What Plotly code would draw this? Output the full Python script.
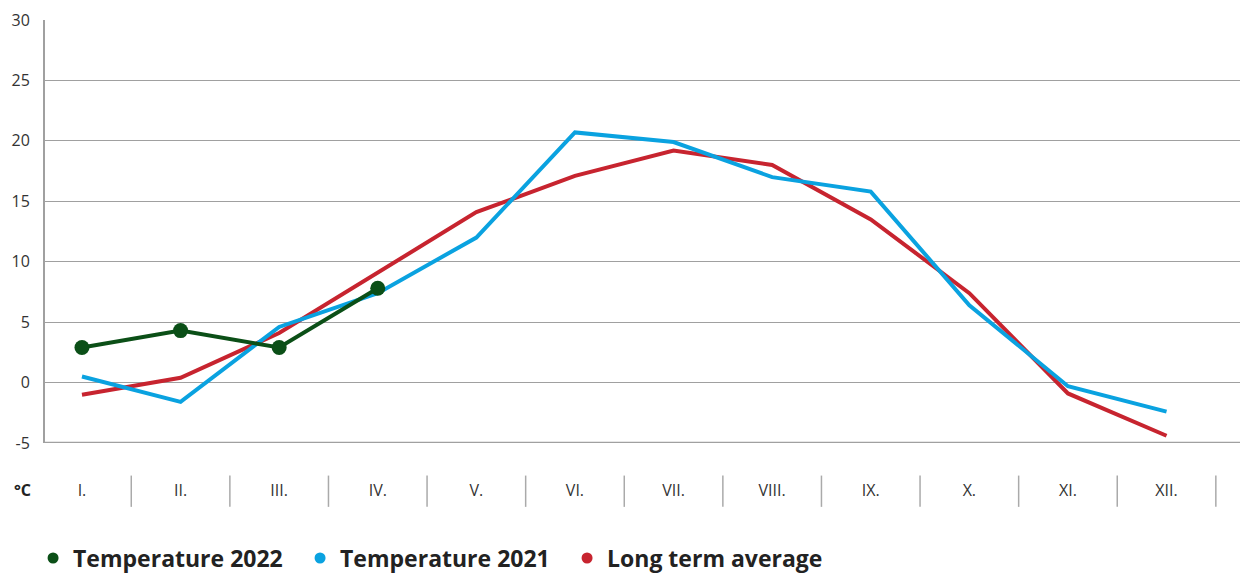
import plotly.graph_objects as go

months = ["I.", "II.", "III.", "IV.", "V.", "VI.", "VII.", "VIII.", "IX.", "X.", "XI.", "XII."]
temp_2022 = [2.9, 4.3, 2.9, 7.8]
temp_2021 = [0.5, -1.6, 4.6, 7.4, 12.0, 20.7, 19.9, 17.0, 15.8, 6.4, -0.3, -2.4]
long_term = [-1.0, 0.4, 4.1, 9.1, 14.1, 17.1, 19.2, 18.0, 13.5, 7.4, -0.9, -4.4]
y_ticks = [-5, 0, 5, 10, 15, 20, 25, 30]

GREEN = "#0b4f17"
BLUE = "#0aa2e0"
RED = "#c7242f"
FONT = "Open Sans"

xs = list(range(len(months)))
fig = go.Figure()

fig.add_trace(go.Scatter(x=xs, y=long_term, mode="lines", line=dict(color=RED, width=4),
                         showlegend=False, name="Long term average"))
fig.add_trace(go.Scatter(x=xs, y=temp_2021, mode="lines", line=dict(color=BLUE, width=4),
                         showlegend=False, name="Temperature 2021"))
fig.add_trace(go.Scatter(x=xs[:len(temp_2022)], y=temp_2022, mode="lines+markers",
                         line=dict(color=GREEN, width=4), marker=dict(color=GREEN, size=15),
                         showlegend=False, name="Temperature 2022"))

# legend entries (dots)
for name, col in [("Temperature 2022", GREEN), ("Temperature 2021", BLUE), ("Long term average", RED)]:
    fig.add_trace(go.Scatter(x=[None], y=[None], mode="markers", name=name,
                             marker=dict(color=col, size=11)))

# category separators
for i in range(len(months)):
    fig.add_shape(type="line", xref="x", yref="paper", x0=i + 0.5, x1=i + 0.5,
                  y0=-0.077, y1=-0.151, line=dict(color="#aaaaaa", width=1.5))

fig.add_annotation(text="°C", xref="paper", yref="paper", x=(22 - 45) / 1195, y=-0.111,
                   showarrow=False, font=dict(family=FONT, size=16, color="#222", weight="bold"),
                   xanchor="center", yanchor="middle")

fig.update_layout(
    width=1241, height=573,
    margin=dict(l=45, r=1, t=20, b=130, autoexpand=False),
    plot_bgcolor="white", paper_bgcolor="white",
    font=dict(family=FONT, color="#333"),
    xaxis=dict(range=[-0.375, 11.745], tickvals=xs, ticktext=months, showgrid=False,
               zeroline=False, showline=False, ticks="", ticklabelstandoff=36,
               tickfont=dict(size=16, color="#333"), automargin=False),
    yaxis=dict(range=[-5, 30], tickvals=y_ticks, ticktext=[str(v) for v in y_ticks],
               showgrid=True, gridcolor="#a0a0a0",
               gridwidth=1.3, zeroline=False, showline=True, linecolor="#a0a0a0", linewidth=2,
               ticks="", tickfont=dict(size=16, color="#333"), ticklabelstandoff=10,
               automargin=False),
    legend=dict(orientation="h", x=-0.01, y=-0.272, xanchor="left", yanchor="middle",
                font=dict(family=FONT, size=23, color="#222", weight="bold"),
                itemwidth=30, tracegroupgap=0, entrywidth=222),
)
# bottom axis line
fig.add_shape(type="line", xref="paper", yref="y", x0=0, x1=1, y0=-5, y1=-5,
              line=dict(color="#a0a0a0", width=2.5))

fig.write_html("out.html", config={"displayModeBar": False},
               post_script="document.body.style.margin='0';document.body.style.overflow='hidden';")
